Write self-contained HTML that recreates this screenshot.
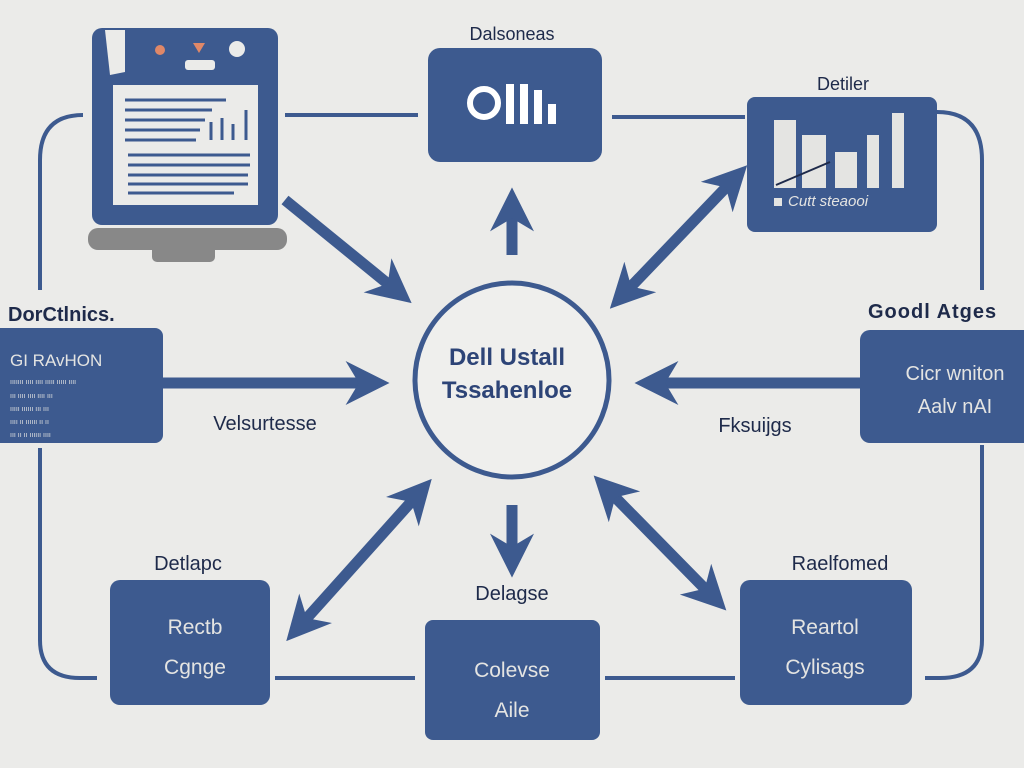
<!DOCTYPE html>
<html><head><meta charset="utf-8"><style>
html,body{margin:0;padding:0;background:#ebebe9;}
svg{display:block;font-family:"Liberation Sans",sans-serif;}
</style></head><body>
<svg width="1024" height="768" viewBox="0 0 1024 768">
<defs>
<marker id="h" viewBox="0 0 10 10" refX="6" refY="5" markerWidth="4" markerHeight="4" orient="auto-start-reverse" markerUnits="strokeWidth">
<path d="M0,0 L10,5 L0,10 L3,5 z" fill="#3d5a8f"/></marker>
</defs>
<rect width="1024" height="768" fill="#ebebe9"/>
<g fill="none" stroke="#3d5a8f" stroke-width="4">
<path d="M83,115 Q40,115 40,160 L40,290"/>
<path d="M40,448 L40,640 Q40,678 80,678 L97,678"/>
<path d="M285,115 L418,115"/>
<path d="M612,117 L745,117"/>
<path d="M937,112 Q982,112 982,160 L982,290"/>
<path d="M982,445 L982,640 Q982,678 940,678 L925,678"/>
<path d="M275,678 L415,678"/>
<path d="M605,678 L735,678"/>
</g>
<g stroke="#3d5a8f" stroke-width="11" fill="none">
<line x1="285" y1="200" x2="398" y2="292" marker-end="url(#h)"/>
<line x1="512" y1="255" x2="512" y2="205" marker-end="url(#h)"/>
<line x1="735" y1="178" x2="622" y2="296" marker-end="url(#h)" marker-start="url(#h)"/>
<line x1="163" y1="383" x2="372" y2="383" marker-end="url(#h)"/>
<line x1="860" y1="383" x2="652" y2="383" marker-end="url(#h)"/>
<line x1="512" y1="505" x2="512" y2="560" marker-end="url(#h)"/>
<line x1="420" y1="492" x2="298" y2="628" marker-end="url(#h)" marker-start="url(#h)"/>
<line x1="606" y1="488" x2="714" y2="598" marker-end="url(#h)" marker-start="url(#h)"/>
</g>
<!-- laptop -->
<rect x="92" y="28" width="186" height="197" rx="10" fill="#3d5a8f"/>
<path d="M105,30 L125,30 L125,72 L110,75 Z" fill="#ebebe9"/>
<circle cx="160" cy="50" r="5" fill="#e08868"/>
<path d="M193,43 L205,43 L199,53 Z" fill="#e08868"/>
<circle cx="237" cy="49" r="8" fill="#ebebe9"/>
<rect x="185" y="60" width="30" height="10" rx="3" fill="#ebebe9"/>
<rect x="113" y="85" width="145" height="120" fill="#ebebe9"/>
<g stroke="#3d5a8f" stroke-width="3">
<line x1="125" y1="100" x2="226" y2="100"/><line x1="125" y1="110" x2="212" y2="110"/>
<line x1="125" y1="120" x2="205" y2="120"/><line x1="125" y1="130" x2="200" y2="130"/>
<line x1="125" y1="140" x2="196" y2="140"/>
<line x1="211" y1="122" x2="211" y2="140"/><line x1="222" y1="118" x2="222" y2="140"/><line x1="233" y1="124" x2="233" y2="140"/><line x1="246" y1="110" x2="246" y2="140"/>
<line x1="128" y1="155" x2="250" y2="155"/><line x1="128" y1="165" x2="250" y2="165"/>
<line x1="128" y1="175" x2="248" y2="175"/><line x1="128" y1="184" x2="248" y2="184"/>
<line x1="128" y1="193" x2="234" y2="193"/>
</g>
<rect x="88" y="228" width="199" height="22" rx="10" fill="#888"/>
<rect x="152" y="245" width="63" height="17" rx="5" fill="#888"/>
<!-- top center -->
<text x="512" y="40" font-size="18" text-anchor="middle" fill="#1e2a4a">Dalsoneas</text>
<rect x="428" y="48" width="174" height="114" rx="12" fill="#3d5a8f"/>
<circle cx="484" cy="103" r="14" fill="none" stroke="#fff" stroke-width="6"/>
<rect x="506" y="84" width="8" height="40" fill="#fff"/><rect x="520" y="84" width="8" height="40" fill="#fff"/><rect x="534" y="90" width="8" height="34" fill="#fff"/><rect x="548" y="104" width="8" height="20" fill="#fff"/>
<!-- top right -->
<text x="843" y="90" font-size="18" text-anchor="middle" fill="#1e2a4a">Detiler</text>
<rect x="747" y="97" width="190" height="135" rx="8" fill="#3d5a8f"/>
<g fill="#e4e4e2"><rect x="774" y="120" width="22" height="68"/><rect x="802" y="135" width="24" height="53"/><rect x="835" y="152" width="22" height="36"/><rect x="867" y="135" width="12" height="53"/><rect x="892" y="113" width="12" height="75"/></g>
<line x1="776" y1="185" x2="830" y2="162" stroke="#1e2a4a" stroke-width="2"/>
<rect x="774" y="198" width="8" height="8" fill="#e4e4e2"/>
<text x="788" y="206" font-size="15" fill="#e4e4e2" font-style="italic">Cutt steaooi</text>
<!-- left -->
<text x="8" y="321" font-size="20" font-weight="bold" fill="#1e2a4a">DorCtlnics.</text>
<rect x="-10" y="328" width="173" height="115" rx="8" fill="#3d5a8f"/>
<text x="10" y="366" font-size="17" fill="#e4e4e2">GI RAvHON</text>
<g fill="#e4e4e2" font-size="7"><text x="10" y="384">ııııııı ıııı ıııı ııııı ııııı ıııı</text><text x="10" y="398">ııı ıııı ıııı ıııı ııı</text><text x="10" y="411">ııııı ıııııı ııı ııı</text><text x="10" y="424">ıııı ıı ıııııı ıı ıı</text><text x="10" y="437">ııı ıı ıı ıııııı ıııı</text></g>
<text x="265" y="430" font-size="20" text-anchor="middle" fill="#1e2a4a">Velsurtesse</text>
<!-- right -->
<text x="868" y="318" font-size="20" font-weight="bold" fill="#1e2a4a" letter-spacing="1">Goodl Atges</text>
<rect x="860" y="330" width="180" height="113" rx="10" fill="#3d5a8f"/>
<text x="955" y="380" font-size="20" text-anchor="middle" fill="#e4e4e2">Cicr wniton</text>
<text x="955" y="413" font-size="20" text-anchor="middle" fill="#e4e4e2">Aalv nAI</text>
<text x="755" y="432" font-size="20" text-anchor="middle" fill="#1e2a4a">Fksuijgs</text>
<!-- circle -->
<circle cx="512" cy="380" r="97" fill="#efefed" stroke="#3d5a8f" stroke-width="5"/>
<text x="507" y="365" font-size="24" font-weight="bold" text-anchor="middle" fill="#2d4477">Dell Ustall</text>
<text x="507" y="398" font-size="24" font-weight="bold" text-anchor="middle" fill="#2d4477">Tssahenloe</text>
<!-- bottom -->
<text x="188" y="570" font-size="20" text-anchor="middle" fill="#1e2a4a">Detlapc</text>
<rect x="110" y="580" width="160" height="125" rx="10" fill="#3d5a8f"/>
<text x="195" y="634" font-size="21" text-anchor="middle" fill="#e4e4e2">Rectb</text>
<text x="195" y="674" font-size="21" text-anchor="middle" fill="#e4e4e2">Cgnge</text>
<text x="512" y="600" font-size="20" text-anchor="middle" fill="#1e2a4a">Delagse</text>
<rect x="425" y="620" width="175" height="120" rx="8" fill="#3d5a8f"/>
<text x="512" y="677" font-size="21" text-anchor="middle" fill="#e4e4e2">Colevse</text>
<text x="512" y="717" font-size="21" text-anchor="middle" fill="#e4e4e2">Aile</text>
<text x="840" y="570" font-size="20" text-anchor="middle" fill="#1e2a4a">Raelfomed</text>
<rect x="740" y="580" width="172" height="125" rx="10" fill="#3d5a8f"/>
<text x="825" y="634" font-size="21" text-anchor="middle" fill="#e4e4e2">Reartol</text>
<text x="825" y="674" font-size="21" text-anchor="middle" fill="#e4e4e2">Cylisags</text>
</svg>
</body></html>
